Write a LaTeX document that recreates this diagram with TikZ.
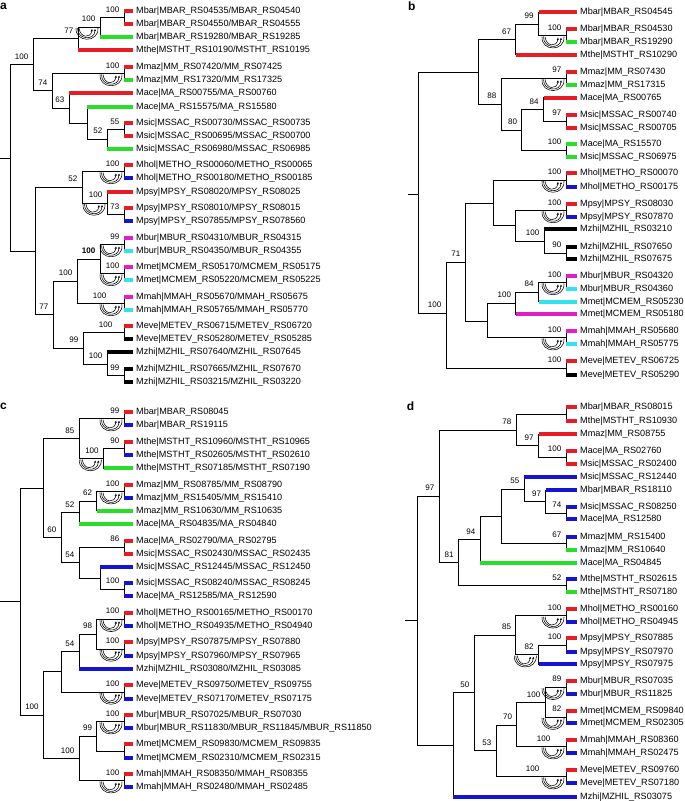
\documentclass[tikz,border=0pt]{standalone}
\usepackage{fontspec}
\setmainfont{Liberation Sans}
\usetikzlibrary{arrows.meta,calc}
\definecolor{cred}{RGB}{232,28,36}
\definecolor{cgreen}{RGB}{40,222,40}
\definecolor{cblue}{RGB}{20,20,210}
\definecolor{cmag}{RGB}{226,30,200}
\definecolor{ccyan}{RGB}{50,226,236}
\tikzset{
  br/.style={line width=0.9pt, line cap=rect},
  leaf/.style={anchor=west, inner xsep=3pt, inner ysep=0pt, font=\fontsize{9.1}{10}\selectfont},
  bs/.style={anchor=base east, inner sep=0pt, xshift=-4.5pt, yshift=5.5pt, font=\fontsize{8}{9}\selectfont},
  panel/.style={anchor=north west, inner sep=0pt, font=\fontsize{12}{12}\selectfont\bfseries},
  fus/.style={line width=0.55pt},
  fusion/.pic={
    \draw[fus] (-24,1) .. controls (-25,16) and (-1,16) .. (-2,1);
    \draw[fus,-{Stealth[length=2.4pt,width=2.2pt]}] (-22.5,1) .. controls (-23,13) and (-5,14) .. (-5,2);
    \draw[fus,-{Stealth[length=2.4pt,width=2.2pt]}] (-21,1) .. controls (-20,11) and (-9,12) .. (-8,2);
  }
}
\newcommand{\treeedge}[2]{\draw[br] (#1) |- (#2);}
\newcommand{\treetip}[3]{\draw[br] (#1) -- (#1 |- #2);
  \fill[#3] ($(#1 |- #2)+(0.4,-1.9)$) rectangle ($(#2.west)+(0,1.9)$);}
\begin{document}
\begin{tikzpicture}[x=1pt,y=-1pt]
\fill[white] (0,0) rectangle (685,801);
\useasboundingbox (0,0) rectangle (685,801);

% ---------------- a ----------------
\node[panel] (pa) at (0,2.7) {a};
\node[leaf] (a1) at (133,11) {Mbar|MBAR\_RS04535/MBAR\_RS04540};
\node[leaf] (a2) at (133,24) {Mbar|MBAR\_RS04550/MBAR\_RS04555};
\node[leaf] (a3) at (133,37) {Mbar|MBAR\_RS19280/MBAR\_RS19285};
\node[leaf] (a4) at (133,50) {Mthe|MSTHT\_RS10190/MSTHT\_RS10195};
\node[leaf] (a5) at (133,67) {Mmaz|MM\_RS07420/MM\_RS07425};
\node[leaf] (a6) at (133,80) {Mmaz|MM\_RS17320/MM\_RS17325};
\node[leaf] (a7) at (133,93) {Mace|MA\_RS00755/MA\_RS00760};
\node[leaf] (a8) at (133,107) {Mace|MA\_RS15575/MA\_RS15580};
\node[leaf] (a9) at (133,123) {Msic|MSSAC\_RS00730/MSSAC\_RS00735};
\node[leaf] (a10) at (133,136) {Msic|MSSAC\_RS00695/MSSAC\_RS00700};
\node[leaf] (a11) at (133,149) {Msic|MSSAC\_RS06980/MSSAC\_RS06985};
\node[leaf] (a12) at (133,165) {Mhol|METHO\_RS00060/METHO\_RS00065};
\node[leaf] (a13) at (133,178) {Mhol|METHO\_RS00180/METHO\_RS00185};
\node[leaf] (a14) at (133,192) {Mpsy|MPSY\_RS08020/MPSY\_RS08025};
\node[leaf] (a15) at (133,208) {Mpsy|MPSY\_RS08010/MPSY\_RS08015};
\node[leaf] (a16) at (133,221) {Mpsy|MPSY\_RS07855/MPSY\_RS078560};
\node[leaf] (a17) at (133,238) {Mbur|MBUR\_RS04310/MBUR\_RS04315};
\node[leaf] (a18) at (133,251) {Mbur|MBUR\_RS04350/MBUR\_RS04355};
\node[leaf] (a19) at (133,267) {Mmet|MCMEM\_RS05170/MCMEM\_RS05175};
\node[leaf] (a20) at (133,280) {Mmet|MCMEM\_RS05220/MCMEM\_RS05225};
\node[leaf] (a21) at (133,297) {Mmah|MMAH\_RS05670/MMAH\_RS05675};
\node[leaf] (a22) at (133,310) {Mmah|MMAH\_RS05765/MMAH\_RS05770};
\node[leaf] (a23) at (133,326) {Meve|METEV\_RS06715/METEV\_RS06720};
\node[leaf] (a24) at (133,339) {Meve|METEV\_RS05280/METEV\_RS05285};
\node[leaf] (a25) at (133,352) {Mzhi|MZHIL\_RS07640/MZHIL\_RS07645};
\node[leaf] (a26) at (133,369) {Mzhi|MZHIL\_RS07665/MZHIL\_RS07670};
\node[leaf] (a27) at (133,382) {Mzhi|MZHIL\_RS03215/MZHIL\_RS03220};
\coordinate (a0) at (0,158);
\coordinate (aR) at (10,158);
\coordinate (aA1) at (33,64.5);
\coordinate (aB1) at (78,38.5);
\coordinate (aC1) at (100,27);
\coordinate (aD1) at (124,17.5);
\coordinate (aB2) at (52,90.7);
\coordinate (aC2) at (124,73.5);
\coordinate (aC3) at (69,108);
\coordinate (aC4) at (87,123);
\coordinate (aE) at (107,139);
\coordinate (aD) at (124,129.5);
\coordinate (aA2) at (35,251);
\coordinate (aF0) at (82,187);
\coordinate (aF1) at (124,171.5);
\coordinate (aF2) at (107,203);
\coordinate (aF3) at (124,214.5);
\coordinate (aG) at (53,314.5);
\coordinate (aH1) at (77,281);
\coordinate (aI1) at (100,259);
\coordinate (aJ1) at (124,244.5);
\coordinate (aJ2) at (124,273.5);
\coordinate (aI2) at (124,303.5);
\coordinate (aH2) at (83,348);
\coordinate (aK1) at (124,332.5);
\coordinate (aK2) at (107,364);
\coordinate (aK3) at (124,375.5);
\draw[br] (a0) -- (aR);
\treeedge{aR}{aA1} \treeedge{aR}{aA2}
\treeedge{aA1}{aB1} \treeedge{aA1}{aB2}
\treeedge{aB1}{aC1} \treetip{aB1}{a4}{cred}
\treeedge{aC1}{aD1} \treetip{aC1}{a3}{cgreen}
\treetip{aD1}{a1}{cred} \treetip{aD1}{a2}{cred}
\treeedge{aB2}{aC2} \treeedge{aB2}{aC3}
\treetip{aC2}{a5}{cred} \treetip{aC2}{a6}{cgreen}
\treetip{aC3}{a7}{cred} \treeedge{aC3}{aC4}
\treetip{aC4}{a8}{cgreen} \treeedge{aC4}{aE}
\treeedge{aE}{aD} \treetip{aE}{a11}{cgreen}
\treetip{aD}{a9}{cred} \treetip{aD}{a10}{cred}
\treeedge{aA2}{aF0} \treeedge{aA2}{aG}
\treeedge{aF0}{aF1} \treeedge{aF0}{aF2}
\treetip{aF1}{a12}{cred} \treetip{aF1}{a13}{cblue}
\treetip{aF2}{a14}{cred} \treeedge{aF2}{aF3}
\treetip{aF3}{a15}{cred} \treetip{aF3}{a16}{cblue}
\treeedge{aG}{aH1} \treeedge{aG}{aH2}
\treeedge{aH1}{aI1} \treeedge{aH1}{aI2}
\treeedge{aI1}{aJ1} \treeedge{aI1}{aJ2}
\treetip{aJ1}{a17}{cmag} \treetip{aJ1}{a18}{ccyan}
\treetip{aJ2}{a19}{cmag} \treetip{aJ2}{a20}{ccyan}
\treetip{aI2}{a21}{cmag} \treetip{aI2}{a22}{ccyan}
\treeedge{aH2}{aK1} \treeedge{aH2}{aK2}
\treetip{aK1}{a23}{cred} \treetip{aK1}{a24}{black}
\treetip{aK2}{a25}{black} \treeedge{aK2}{aK3}
\treetip{aK3}{a26}{black} \treetip{aK3}{a27}{black}
\node[bs] (laA1) at (aA1) {100};
\node[bs] (laB1) at (aB1) {77};
\node[bs] (laC1) at (aC1) {100};
\node[bs] (laD1) at (aD1) {100};
\node[bs] (laB2) at (aB2) {74};
\node[bs] (laC2) at (aC2) {100};
\node[bs] (laC3) at (aC3) {63};
\node[bs] (laE) at (aE) {52};
\node[bs] (laD) at (aD) {55};
\node[bs] (laF0) at (aF0) {52};
\node[bs] (laF1) at (aF1) {100};
\node[bs] (laF2) at (aF2) {100};
\node[bs] (laF3) at (aF3) {73};
\node[bs] (laG) at (aG) {77};
\node[bs] (laH1) at (aH1) {100};
\node[bs,font=\fontsize{8}{9}\selectfont\bfseries] (laI1) at (aI1) {100};
\node[bs] (laJ1) at (aJ1) {99};
\node[bs] (laJ2) at (aJ2) {100};
\node[bs,xshift=-13pt] (laI2) at (aI2) {100};
\node[bs] (laH2) at (aH2) {99};
\node[bs,xshift=-7pt] (laK1) at (aK1) {100};
\node[bs] (laK2) at (aK2) {100};
\node[bs] (laK3) at (aK3) {99};
\foreach \n in {aC1,aC2,aF1,aF2,aJ1,aJ2,aI2} \pic at (\n) {fusion};

% ---------------- b ----------------
\node[panel] (pb) at (408,1.7) {b};
\node[leaf] (b1) at (577,12.3) {Mbar|MBAR\_RS04545};
\node[leaf] (b2) at (577,29) {Mbar|MBAR\_RS04530};
\node[leaf] (b3) at (577,42.3) {Mbar|MBAR\_RS19290};
\node[leaf] (b4) at (577,55) {Mthe|MSTHT\_RS10290};
\node[leaf] (b5) at (577,71.7) {Mmaz|MM\_RS07430};
\node[leaf] (b6) at (577,85) {Mmaz|MM\_RS17315};
\node[leaf] (b7) at (577,97.7) {Mace|MA\_RS00765};
\node[leaf] (b8) at (577,115) {Msic|MSSAC\_RS00740};
\node[leaf] (b9) at (577,127.7) {Msic|MSSAC\_RS00705};
\node[leaf] (b10) at (577,144) {Mace|MA\_RS15570};
\node[leaf] (b11) at (577,156.7) {Msic|MSSAC\_RS06975};
\node[leaf] (b12) at (577,173.3) {Mhol|METHO\_RS00070};
\node[leaf] (b13) at (577,186.7) {Mhol|METHO\_RS00175};
\node[leaf] (b14) at (577,204.3) {Mpsy|MPSY\_RS08030};
\node[leaf] (b15) at (577,216.7) {Mpsy|MPSY\_RS07870};
\node[leaf] (b16) at (577,229.3) {Mzhi|MZHIL\_RS03210};
\node[leaf] (b17) at (577,246.7) {Mzhi|MZHIL\_RS07650};
\node[leaf] (b18) at (577,259.3) {Mzhi|MZHIL\_RS07675};
\node[leaf] (b19) at (577,276) {Mbur|MBUR\_RS04320};
\node[leaf] (b20) at (577,289) {Mbur|MBUR\_RS04360};
\node[leaf] (b21) at (577,301.7) {Mmet|MCMEM\_RS05230};
\node[leaf] (b22) at (577,314.3) {Mmet|MCMEM\_RS05180};
\node[leaf] (b23) at (577,331) {Mmah|MMAH\_RS05680};
\node[leaf] (b24) at (577,344.3) {Mmah|MMAH\_RS05775};
\node[leaf] (b25) at (577,361) {Meve|METEV\_RS06725};
\node[leaf] (b26) at (577,375) {Meve|METEV\_RS05290};
\coordinate (b0) at (408,194);
\coordinate (bR) at (418,194);
\coordinate (bP1) at (478.3,72);
\coordinate (bQ1) at (515.7,39.5);
\coordinate (bS1) at (538.3,24);
\coordinate (bS2) at (566,35.7);
\coordinate (bQ2) at (501,104.2);
\coordinate (bT1) at (566,78.3);
\coordinate (bT2) at (521.7,130);
\coordinate (bU1) at (543.3,109.5);
\coordinate (bU2) at (566,121.3);
\coordinate (bU3) at (566,150.3);
\coordinate (bR2) at (446,313);
\coordinate (bV1) at (465,262);
\coordinate (bW1) at (493.3,203);
\coordinate (bMh) at (566,180);
\coordinate (bW2) at (515.7,225.8);
\coordinate (bMp) at (566,210.5);
\coordinate (bW3) at (544,241);
\coordinate (bMz) at (566,253);
\coordinate (bX1) at (487.7,321);
\coordinate (bY1) at (515.7,303);
\coordinate (bY2) at (538.3,292);
\coordinate (bMb) at (566,282.5);
\coordinate (bMm) at (566,337.7);
\coordinate (bMe) at (566,368);
\draw[br] (b0) -- (bR);
\treeedge{bR}{bP1} \treeedge{bR}{bR2}
\treeedge{bP1}{bQ1} \treeedge{bP1}{bQ2}
\treeedge{bQ1}{bS1} \treetip{bQ1}{b4}{cred}
\treetip{bS1}{b1}{cred} \treeedge{bS1}{bS2}
\treetip{bS2}{b2}{cred} \treetip{bS2}{b3}{cgreen}
\treeedge{bQ2}{bT1} \treeedge{bQ2}{bT2}
\treetip{bT1}{b5}{cred} \treetip{bT1}{b6}{cgreen}
\treeedge{bT2}{bU1} \treeedge{bT2}{bU3}
\treetip{bU1}{b7}{cred} \treeedge{bU1}{bU2}
\treetip{bU2}{b8}{cred} \treetip{bU2}{b9}{cred}
\treetip{bU3}{b10}{cgreen} \treetip{bU3}{b11}{cgreen}
\treeedge{bR2}{bV1} \treeedge{bR2}{bMe}
\treeedge{bV1}{bW1} \treeedge{bV1}{bX1}
\treeedge{bW1}{bMh} \treeedge{bW1}{bW2}
\treetip{bMh}{b12}{cred} \treetip{bMh}{b13}{cblue}
\treeedge{bW2}{bMp} \treeedge{bW2}{bW3}
\treetip{bMp}{b14}{cred} \treetip{bMp}{b15}{cblue}
\treetip{bW3}{b16}{black} \treeedge{bW3}{bMz}
\treetip{bMz}{b17}{black} \treetip{bMz}{b18}{black}
\treeedge{bX1}{bY1} \treeedge{bX1}{bMm}
\treeedge{bY1}{bY2} \treetip{bY1}{b22}{cmag}
\treeedge{bY2}{bMb} \treetip{bY2}{b21}{ccyan}
\treetip{bMb}{b19}{cmag} \treetip{bMb}{b20}{ccyan}
\treetip{bMm}{b23}{cmag} \treetip{bMm}{b24}{ccyan}
\treetip{bMe}{b25}{cred} \treetip{bMe}{b26}{black}
\node[bs] (lbQ1) at (bQ1) {67};
\node[bs] (lbS1) at (bS1) {99};
\node[bs] (lbS2) at (bS2) {100};
\node[bs] (lbQ2) at (bQ2) {88};
\node[bs] (lbT1) at (bT1) {97};
\node[bs] (lbT2) at (bT2) {80};
\node[bs] (lbU1) at (bU1) {84};
\node[bs] (lbU2) at (bU2) {97};
\node[bs] (lbU3) at (bU3) {100};
\node[bs] (lbR2) at (bR2) {100};
\node[bs] (lbV1) at (bV1) {71};
\node[bs] (lbMh) at (bMh) {100};
\node[bs] (lbMp) at (bMp) {100};
\node[bs] (lbW3) at (bW3) {100};
\node[bs] (lbMz) at (bMz) {90};
\node[bs] (lbY1) at (bY1) {100};
\node[bs] (lbY2) at (bY2) {84};
\node[bs] (lbMb) at (bMb) {100};
\node[bs] (lbMm) at (bMm) {100};
\node[bs] (lbMe) at (bMe) {100};
\foreach \n in {bS2,bT1,bMh,bMp,bMb,bMm} \pic at (\n) {fusion};

% ---------------- c ----------------
\node[panel] (pc) at (0,402.5) {c};
\node[leaf] (c1) at (133,412.3) {Mbar|MBAR\_RS08045};
\node[leaf] (c2) at (133,425) {Mbar|MBAR\_RS19115};
\node[leaf] (c3) at (133,442.3) {Mthe|MSTHT\_RS10960/MSTHT\_RS10965};
\node[leaf] (c4) at (133,455) {Mthe|MSTHT\_RS02605/MSTHT\_RS02610};
\node[leaf] (c5) at (133,468.3) {Mthe|MSTHT\_RS07185/MSTHT\_RS07190};
\node[leaf] (c6) at (133,485) {Mmaz|MM\_RS08785/MM\_RS08790};
\node[leaf] (c7) at (133,498.3) {Mmaz|MM\_RS15405/MM\_RS15410};
\node[leaf] (c8) at (133,511) {Mmaz|MM\_RS10630/MM\_RS10635};
\node[leaf] (c9) at (133,524.3) {Mace|MA\_RS04835/MA\_RS04840};
\node[leaf] (c10) at (133,540.7) {Mace|MA\_RS02790/MA\_RS02795};
\node[leaf] (c11) at (133,554) {Msic|MSSAC\_RS02430/MSSAC\_RS02435};
\node[leaf] (c12) at (133,566.7) {Msic|MSSAC\_RS12445/MSSAC\_RS12450};
\node[leaf] (c13) at (133,582.7) {Msic|MSSAC\_RS08240/MSSAC\_RS08245};
\node[leaf] (c14) at (133,595.7) {Mace|MA\_RS12585/MA\_RS12590};
\node[leaf] (c15) at (133,612.7) {Mhol|METHO\_RS00165/METHO\_RS00170};
\node[leaf] (c16) at (133,626) {Mhol|METHO\_RS04935/METHO\_RS04940};
\node[leaf] (c17) at (133,642.3) {Mpsy|MPSY\_RS07875/MPSY\_RS07880};
\node[leaf] (c18) at (133,655.7) {Mpsy|MPSY\_RS07960/MPSY\_RS07965};
\node[leaf] (c19) at (133,669) {Mzhi|MZHIL\_RS03080/MZHIL\_RS03085};
\node[leaf] (c20) at (133,685) {Meve|METEV\_RS09750/METEV\_RS09755};
\node[leaf] (c21) at (133,699) {Meve|METEV\_RS07170/METEV\_RS07175};
\node[leaf] (c22) at (133,715) {Mbur|MBUR\_RS07025/MBUR\_RS07030};
\node[leaf] (c23) at (133,728.3) {Mbur|MBUR\_RS11830/MBUR\_RS11845/MBUR\_RS11850};
\node[leaf] (c24) at (133,744.3) {Mmet|MCMEM\_RS09830/MCMEM\_RS09835};
\node[leaf] (c25) at (133,757.7) {Mmet|MCMEM\_RS02310/MCMEM\_RS02315};
\node[leaf] (c26) at (133,774) {Mmah|MMAH\_RS08350/MMAH\_RS08355};
\node[leaf] (c27) at (133,787.3) {Mmah|MMAH\_RS02480/MMAH\_RS02485};
\coordinate (c0) at (0,601.7);
\coordinate (cR) at (20,601.7);
\coordinate (cR1) at (43.3,488.2);
\coordinate (cA1) at (79,438.6);
\coordinate (cMb) at (124,418.7);
\coordinate (cB) at (103.3,458.5);
\coordinate (cMt) at (124,448.7);
\coordinate (cA2) at (61,537.7);
\coordinate (cC1) at (79,512.8);
\coordinate (cD1) at (96.7,501.3);
\coordinate (cMz) at (124,491.7);
\coordinate (cC2) at (79,562.7);
\coordinate (cMa) at (124,547.3);
\coordinate (cE) at (100,578);
\coordinate (cMs) at (124,589.2);
\coordinate (cR2) at (43.3,715);
\coordinate (cF1) at (61,671.8);
\coordinate (cG) at (79,651.5);
\coordinate (cH) at (96.7,634);
\coordinate (cMh) at (124,619.3);
\coordinate (cMp) at (124,649);
\coordinate (cMe) at (124,692);
\coordinate (cF2) at (79,758.5);
\coordinate (cI) at (96.7,736.3);
\coordinate (cMu) at (124,721.7);
\coordinate (cMm) at (124,751);
\coordinate (cMa2) at (124,780.7);
\draw[br] (c0) -- (cR);
\treeedge{cR}{cR1} \treeedge{cR}{cR2}
\treeedge{cR1}{cA1} \treeedge{cR1}{cA2}
\treeedge{cA1}{cMb} \treeedge{cA1}{cB}
\treetip{cMb}{c1}{cred} \treetip{cMb}{c2}{cblue}
\treeedge{cB}{cMt} \treetip{cB}{c5}{cgreen}
\treetip{cMt}{c3}{cred} \treetip{cMt}{c4}{cblue}
\treeedge{cA2}{cC1} \treeedge{cA2}{cC2}
\treeedge{cC1}{cD1} \treetip{cC1}{c9}{cgreen}
\treeedge{cD1}{cMz} \treetip{cD1}{c8}{cgreen}
\treetip{cMz}{c6}{cred} \treetip{cMz}{c7}{cblue}
\treeedge{cC2}{cMa} \treeedge{cC2}{cE}
\treetip{cMa}{c10}{cred} \treetip{cMa}{c11}{cred}
\treetip{cE}{c12}{cblue} \treeedge{cE}{cMs}
\treetip{cMs}{c13}{cblue} \treetip{cMs}{c14}{cblue}
\treeedge{cR2}{cF1} \treeedge{cR2}{cF2}
\treeedge{cF1}{cG} \treeedge{cF1}{cMe}
\treeedge{cG}{cH} \treetip{cG}{c19}{cblue}
\treeedge{cH}{cMh} \treeedge{cH}{cMp}
\treetip{cMh}{c15}{cred} \treetip{cMh}{c16}{cblue}
\treetip{cMp}{c17}{cred} \treetip{cMp}{c18}{cblue}
\treetip{cMe}{c20}{cred} \treetip{cMe}{c21}{cblue}
\treeedge{cF2}{cI} \treeedge{cF2}{cMa2}
\treeedge{cI}{cMu} \treeedge{cI}{cMm}
\treetip{cMu}{c22}{cred} \treetip{cMu}{c23}{cblue}
\treetip{cMm}{c24}{cred} \treetip{cMm}{c25}{cblue}
\treetip{cMa2}{c26}{cred} \treetip{cMa2}{c27}{cblue}
\node[bs] (lcA1) at (cA1) {85};
\node[bs] (lcMb) at (cMb) {99};
\node[bs] (lcB) at (cB) {100};
\node[bs] (lcMt) at (cMt) {90};
\node[bs] (lcA2) at (cA2) {60};
\node[bs] (lcC1) at (cC1) {52};
\node[bs] (lcD1) at (cD1) {62};
\node[bs] (lcMz) at (cMz) {100};
\node[bs] (lcC2) at (cC2) {54};
\node[bs] (lcMa) at (cMa) {86};
\node[bs] (lcMs) at (cMs) {100};
\node[bs] (lcR2) at (cR2) {100};
\node[bs] (lcG) at (cG) {54};
\node[bs] (lcH) at (cH) {98};
\node[bs] (lcMh) at (cMh) {100};
\node[bs] (lcMp) at (cMp) {100};
\node[bs] (lcMe) at (cMe) {100};
\node[bs] (lcF2) at (cF2) {100};
\node[bs] (lcI) at (cI) {99};
\node[bs] (lcMu) at (cMu) {100};
\node[bs] (lcMa2) at (cMa2) {100};
\foreach \n in {cMb,cB,cMz,cMh,cMp,cMe,cMu,cMa2} \pic at (\n) {fusion};

% ---------------- d ----------------
\node[panel] (pd) at (406.7,401.7) {d};
\node[leaf] (d1) at (577,407.3) {Mbar|MBAR\_RS08015};
\node[leaf] (d2) at (577,421) {Mthe|MSTHT\_RS10930};
\node[leaf] (d3) at (577,434.3) {Mmaz|MM\_RS08755};
\node[leaf] (d4) at (577,450.7) {Mace|MA\_RS02760};
\node[leaf] (d5) at (577,464) {Msic|MSSAC\_RS02400};
\node[leaf] (d6) at (577,477.3) {Msic|MSSAC\_RS12440};
\node[leaf] (d7) at (577,490) {Mbar|MBAR\_RS18110};
\node[leaf] (d8) at (577,506.7) {Msic|MSSAC\_RS08250};
\node[leaf] (d9) at (577,519.3) {Mace|MA\_RS12580};
\node[leaf] (d10) at (577,536.7) {Mmaz|MM\_RS15400};
\node[leaf] (d11) at (577,550) {Mmaz|MM\_RS10640};
\node[leaf] (d12) at (577,562.7) {Mace|MA\_RS04845};
\node[leaf] (d13) at (577,579) {Mthe|MSTHT\_RS02615};
\node[leaf] (d14) at (577,592.3) {Mthe|MSTHT\_RS07180};
\node[leaf] (d15) at (577,609.3) {Mhol|METHO\_RS00160};
\node[leaf] (d16) at (577,622.3) {Mhol|METHO\_RS04945};
\node[leaf] (d17) at (577,638.3) {Mpsy|MPSY\_RS07885};
\node[leaf] (d18) at (577,651.7) {Mpsy|MPSY\_RS07970};
\node[leaf] (d19) at (577,664.3) {Mpsy|MPSY\_RS07975};
\node[leaf] (d20) at (577,680.7) {Mbur|MBUR\_RS07035};
\node[leaf] (d21) at (577,694) {Mbur|MBUR\_RS11825};
\node[leaf] (d22) at (577,711) {Mmet|MCMEM\_RS09840};
\node[leaf] (d23) at (577,723.3) {Mmet|MCMEM\_RS02305};
\node[leaf] (d24) at (577,740) {Mmah|MMAH\_RS08360};
\node[leaf] (d25) at (577,753.3) {Mmah|MMAH\_RS02475};
\node[leaf] (d26) at (577,770) {Meve|METEV\_RS09760};
\node[leaf] (d27) at (577,783.3) {Meve|METEV\_RS07180};
\node[leaf] (d28) at (577,796.7) {Mzhi|MZHIL\_RS03075};
\coordinate (d0) at (405.7,620.5);
\coordinate (dR) at (417.3,620.5);
\coordinate (dR1) at (439,496.3);
\coordinate (dA1) at (516,430);
\coordinate (dM12) at (566,414.2);
\coordinate (dB1) at (538.3,445.8);
\coordinate (dM45) at (566,457.3);
\coordinate (dA2) at (458.3,562.7);
\coordinate (dC1) at (480,539.7);
\coordinate (dD1) at (501.7,516.3);
\coordinate (dE1) at (524,489.2);
\coordinate (dF1) at (545.7,501.5);
\coordinate (dM89) at (566,513);
\coordinate (dMz) at (566,543.3);
\coordinate (dMt) at (566,585.7);
\coordinate (dR2) at (453,745);
\coordinate (dG1) at (474,692.8);
\coordinate (dH1) at (515.7,635.2);
\coordinate (dMh) at (566,615.8);
\coordinate (dI1) at (538.3,654.7);
\coordinate (dMp) at (566,645);
\coordinate (dJ1) at (496,750.7);
\coordinate (dK1) at (516.7,725);
\coordinate (dL1) at (545,702.7);
\coordinate (dMu) at (566,687.3);
\coordinate (dMm) at (566,717.2);
\coordinate (dMa) at (566,746.7);
\coordinate (dMe) at (566,776.7);
\draw[br] (d0) -- (dR);
\treeedge{dR}{dR1} \treeedge{dR}{dR2}
\treeedge{dR1}{dA1} \treeedge{dR1}{dA2}
\treeedge{dA1}{dM12} \treeedge{dA1}{dB1}
\treetip{dM12}{d1}{cred} \treetip{dM12}{d2}{cred}
\treetip{dB1}{d3}{cred} \treeedge{dB1}{dM45}
\treetip{dM45}{d4}{cred} \treetip{dM45}{d5}{cred}
\treeedge{dA2}{dC1} \treeedge{dA2}{dMt}
\treeedge{dC1}{dD1} \treetip{dC1}{d12}{cgreen}
\treeedge{dD1}{dE1} \treeedge{dD1}{dMz}
\treetip{dE1}{d6}{cblue} \treeedge{dE1}{dF1}
\treetip{dF1}{d7}{cblue} \treeedge{dF1}{dM89}
\treetip{dM89}{d8}{cblue} \treetip{dM89}{d9}{cblue}
\treetip{dMz}{d10}{cblue} \treetip{dMz}{d11}{cgreen}
\treetip{dMt}{d13}{cblue} \treetip{dMt}{d14}{cgreen}
\treeedge{dR2}{dG1} \treetip{dR2}{d28}{cblue}
\treeedge{dG1}{dH1} \treeedge{dG1}{dJ1}
\treeedge{dH1}{dMh} \treeedge{dH1}{dI1}
\treetip{dMh}{d15}{cred} \treetip{dMh}{d16}{cblue}
\treeedge{dI1}{dMp} \treetip{dI1}{d19}{cblue}
\treetip{dMp}{d17}{cred} \treetip{dMp}{d18}{cblue}
\treeedge{dJ1}{dK1} \treeedge{dJ1}{dMe}
\treeedge{dK1}{dL1} \treeedge{dK1}{dMa}
\treeedge{dL1}{dMu} \treeedge{dL1}{dMm}
\treetip{dMu}{d20}{cred} \treetip{dMu}{d21}{cblue}
\treetip{dMm}{d22}{cred} \treetip{dMm}{d23}{cblue}
\treetip{dMa}{d24}{cred} \treetip{dMa}{d25}{cblue}
\treetip{dMe}{d26}{cred} \treetip{dMe}{d27}{cblue}
\node[bs] (ldR1) at (dR1) {97};
\node[bs] (ldA1) at (dA1) {78};
\node[bs] (ldB1) at (dB1) {97};
\node[bs] (ldM45) at (dM45) {100};
\node[bs] (ldA2) at (dA2) {81};
\node[bs] (ldC1) at (dC1) {94};
\node[bs] (ldE1) at (dE1) {55};
\node[bs] (ldF1) at (dF1) {97};
\node[bs] (ldM89) at (dM89) {74};
\node[bs] (ldMz) at (dMz) {67};
\node[bs] (ldMt) at (dMt) {52};
\node[bs] (ldG1) at (dG1) {50};
\node[bs] (ldH1) at (dH1) {85};
\node[bs] (ldMh) at (dMh) {100};
\node[bs] (ldI1) at (dI1) {82};
\node[bs] (ldMp) at (dMp) {100};
\node[bs] (ldJ1) at (dJ1) {53};
\node[bs] (ldK1) at (dK1) {70};
\node[bs] (ldL1) at (dL1) {100};
\node[bs] (ldMu) at (dMu) {89};
\node[bs] (ldMm) at (dMm) {82};
\node[bs,xshift=-11pt] (ldMa) at (dMa) {100};
\node[bs,xshift=-22pt] (ldMe) at (dMe) {100};
\foreach \n in {dMh,dI1,dMu,dMm,dMa,dMe} \pic at (\n) {fusion};
\end{tikzpicture}
\end{document}
